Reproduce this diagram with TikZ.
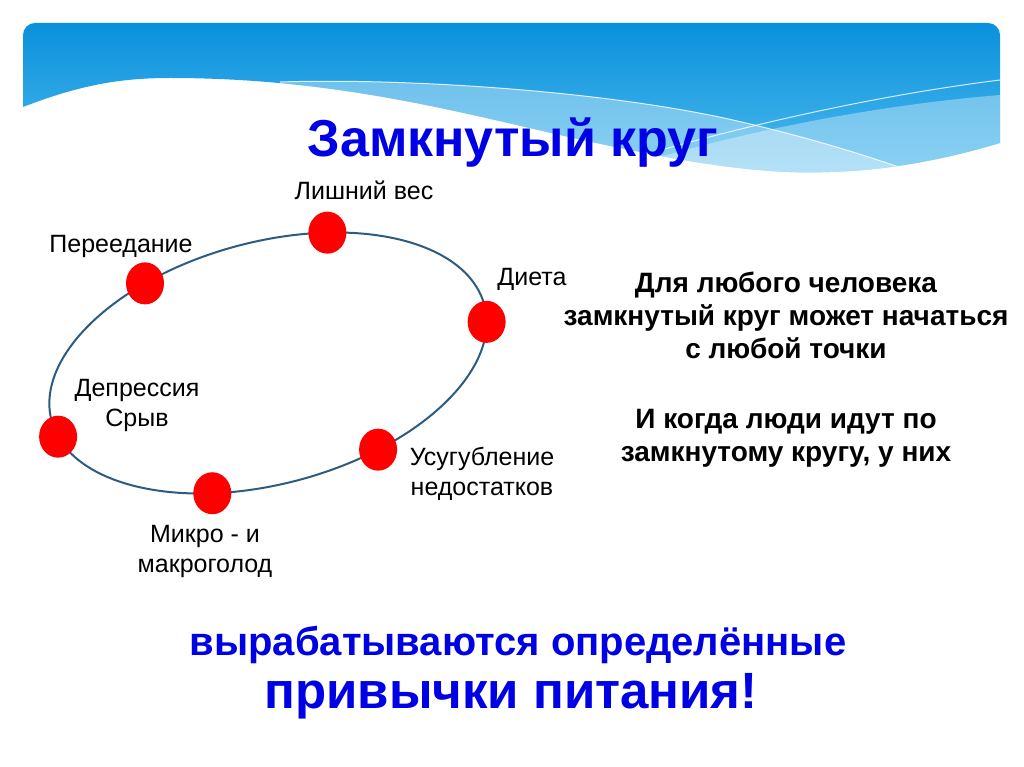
\documentclass[tikz,border=0pt]{standalone}
\usepackage{fontspec}
\setmainfont{Liberation Sans}
\usetikzlibrary{shapes.geometric}

\definecolor{skytop}{RGB}{10,145,220}
\definecolor{skylow}{RGB}{78,186,238}
\definecolor{ring}{RGB}{45,92,130}
\definecolor{deepblue}{RGB}{0,0,228}

\newcommand\bannerpath{(23,107) -- (23,35) arc[start angle=180, end angle=90, radius=12pt]
  -- (988,23) arc[start angle=90, end angle=0, radius=12pt] -- (1000,143)
  .. controls (960,155) and (900,170) .. (830,172)
  .. controls (760,175) and (680,162) .. (560,135)
  .. controls (450,110) and (330,78) .. (170,78)
  .. controls (120,78) and (80,85) .. (23,107) -- cycle}

\tikzset{
  dot/.style={ellipse, fill=red, minimum width=38pt, minimum height=42pt, inner sep=0pt},
  lbl/.style={font=\fontsize{25}{30}\selectfont, align=center, anchor=base, inner sep=0pt},
  band/.style={fill=white, fill opacity=0.35},
  streak/.style={white, line width=1pt, opacity=0.8},
}

\begin{document}
\begin{tikzpicture}[x=1pt,y=-1pt]
\useasboundingbox (0,0) rectangle (1024,767);
\fill[white] (0,0) rectangle (1024,767);

% banner with waves
\shade[top color=skytop, bottom color=skylow] \bannerpath;
\begin{scope}
\clip \bannerpath;
\fill[band] (280,82) .. controls (400,78) and (600,90) .. (733,120)
  .. controls (820,140) and (880,160) .. (930,178) -- (930,200) -- (280,200) -- cycle;
\fill[band] (1000,95) .. controls (880,105) and (740,130) .. (600,175) -- (1010,200) -- cycle;
\draw[streak] (280,82) .. controls (400,78) and (600,90) .. (733,120)
  .. controls (820,140) and (880,160) .. (930,178);
\draw[streak] (1000,80) .. controls (880,95) and (740,125) .. (600,168);
\end{scope}

\node[anchor=base, text=deepblue, font=\fontsize{52}{60}\selectfont\bfseries] (title) at (513,157) {Замкнутый круг};

% the ring and its points
\begin{scope}[shift={(268,363)}, rotate=15]
\draw[ring, line width=2pt] (0,0) ellipse [x radius=224pt, y radius=121pt];
\node[dot] (ves) at (66:224pt and 121pt) {};
\node[dot] (pereed) at (116:224pt and 121pt) {};
\node[dot] (dieta) at (352:224pt and 121pt) {};
\node[dot] (depr) at (188:224pt and 121pt) {};
\node[dot] (usug) at (292:224pt and 121pt) {};
\node[dot] (mikro) at (247:224pt and 121pt) {};
\end{scope}

% labels (base = last line)
\node[lbl] (vesL) at (364,200) {Лишний вес};
\node[lbl] (pereedL) at (121,252) {Переедание};
\node[lbl] (dietaL) at (532,285) {Диета};
\node[lbl] (deprL) at (137,426) {Депрессия\\Срыв};
\node[lbl] (usugL) at (482,495) {Усугубление\\недостатков};
\node[lbl] (mikroL) at (205,572) {Микро - и\\макроголод};

\node[anchor=base, align=center, inner sep=0pt, font=\fontsize{28}{33}\selectfont\bfseries] (note) at (786,461)
  {Для любого человека\\замкнутый круг может начаться\\с любой точки\\[37pt]И когда люди идут по\\замкнутому кругу, у них};

\node[anchor=base, text=deepblue, font=\fontsize{40}{48}\selectfont\bfseries] (habits) at (518,655) {вырабатываются определённые};
\node[anchor=base, text=deepblue, font=\fontsize{51}{60}\selectfont\bfseries] (food) at (511,708) {привычки питания!};
\end{tikzpicture}
\end{document}
